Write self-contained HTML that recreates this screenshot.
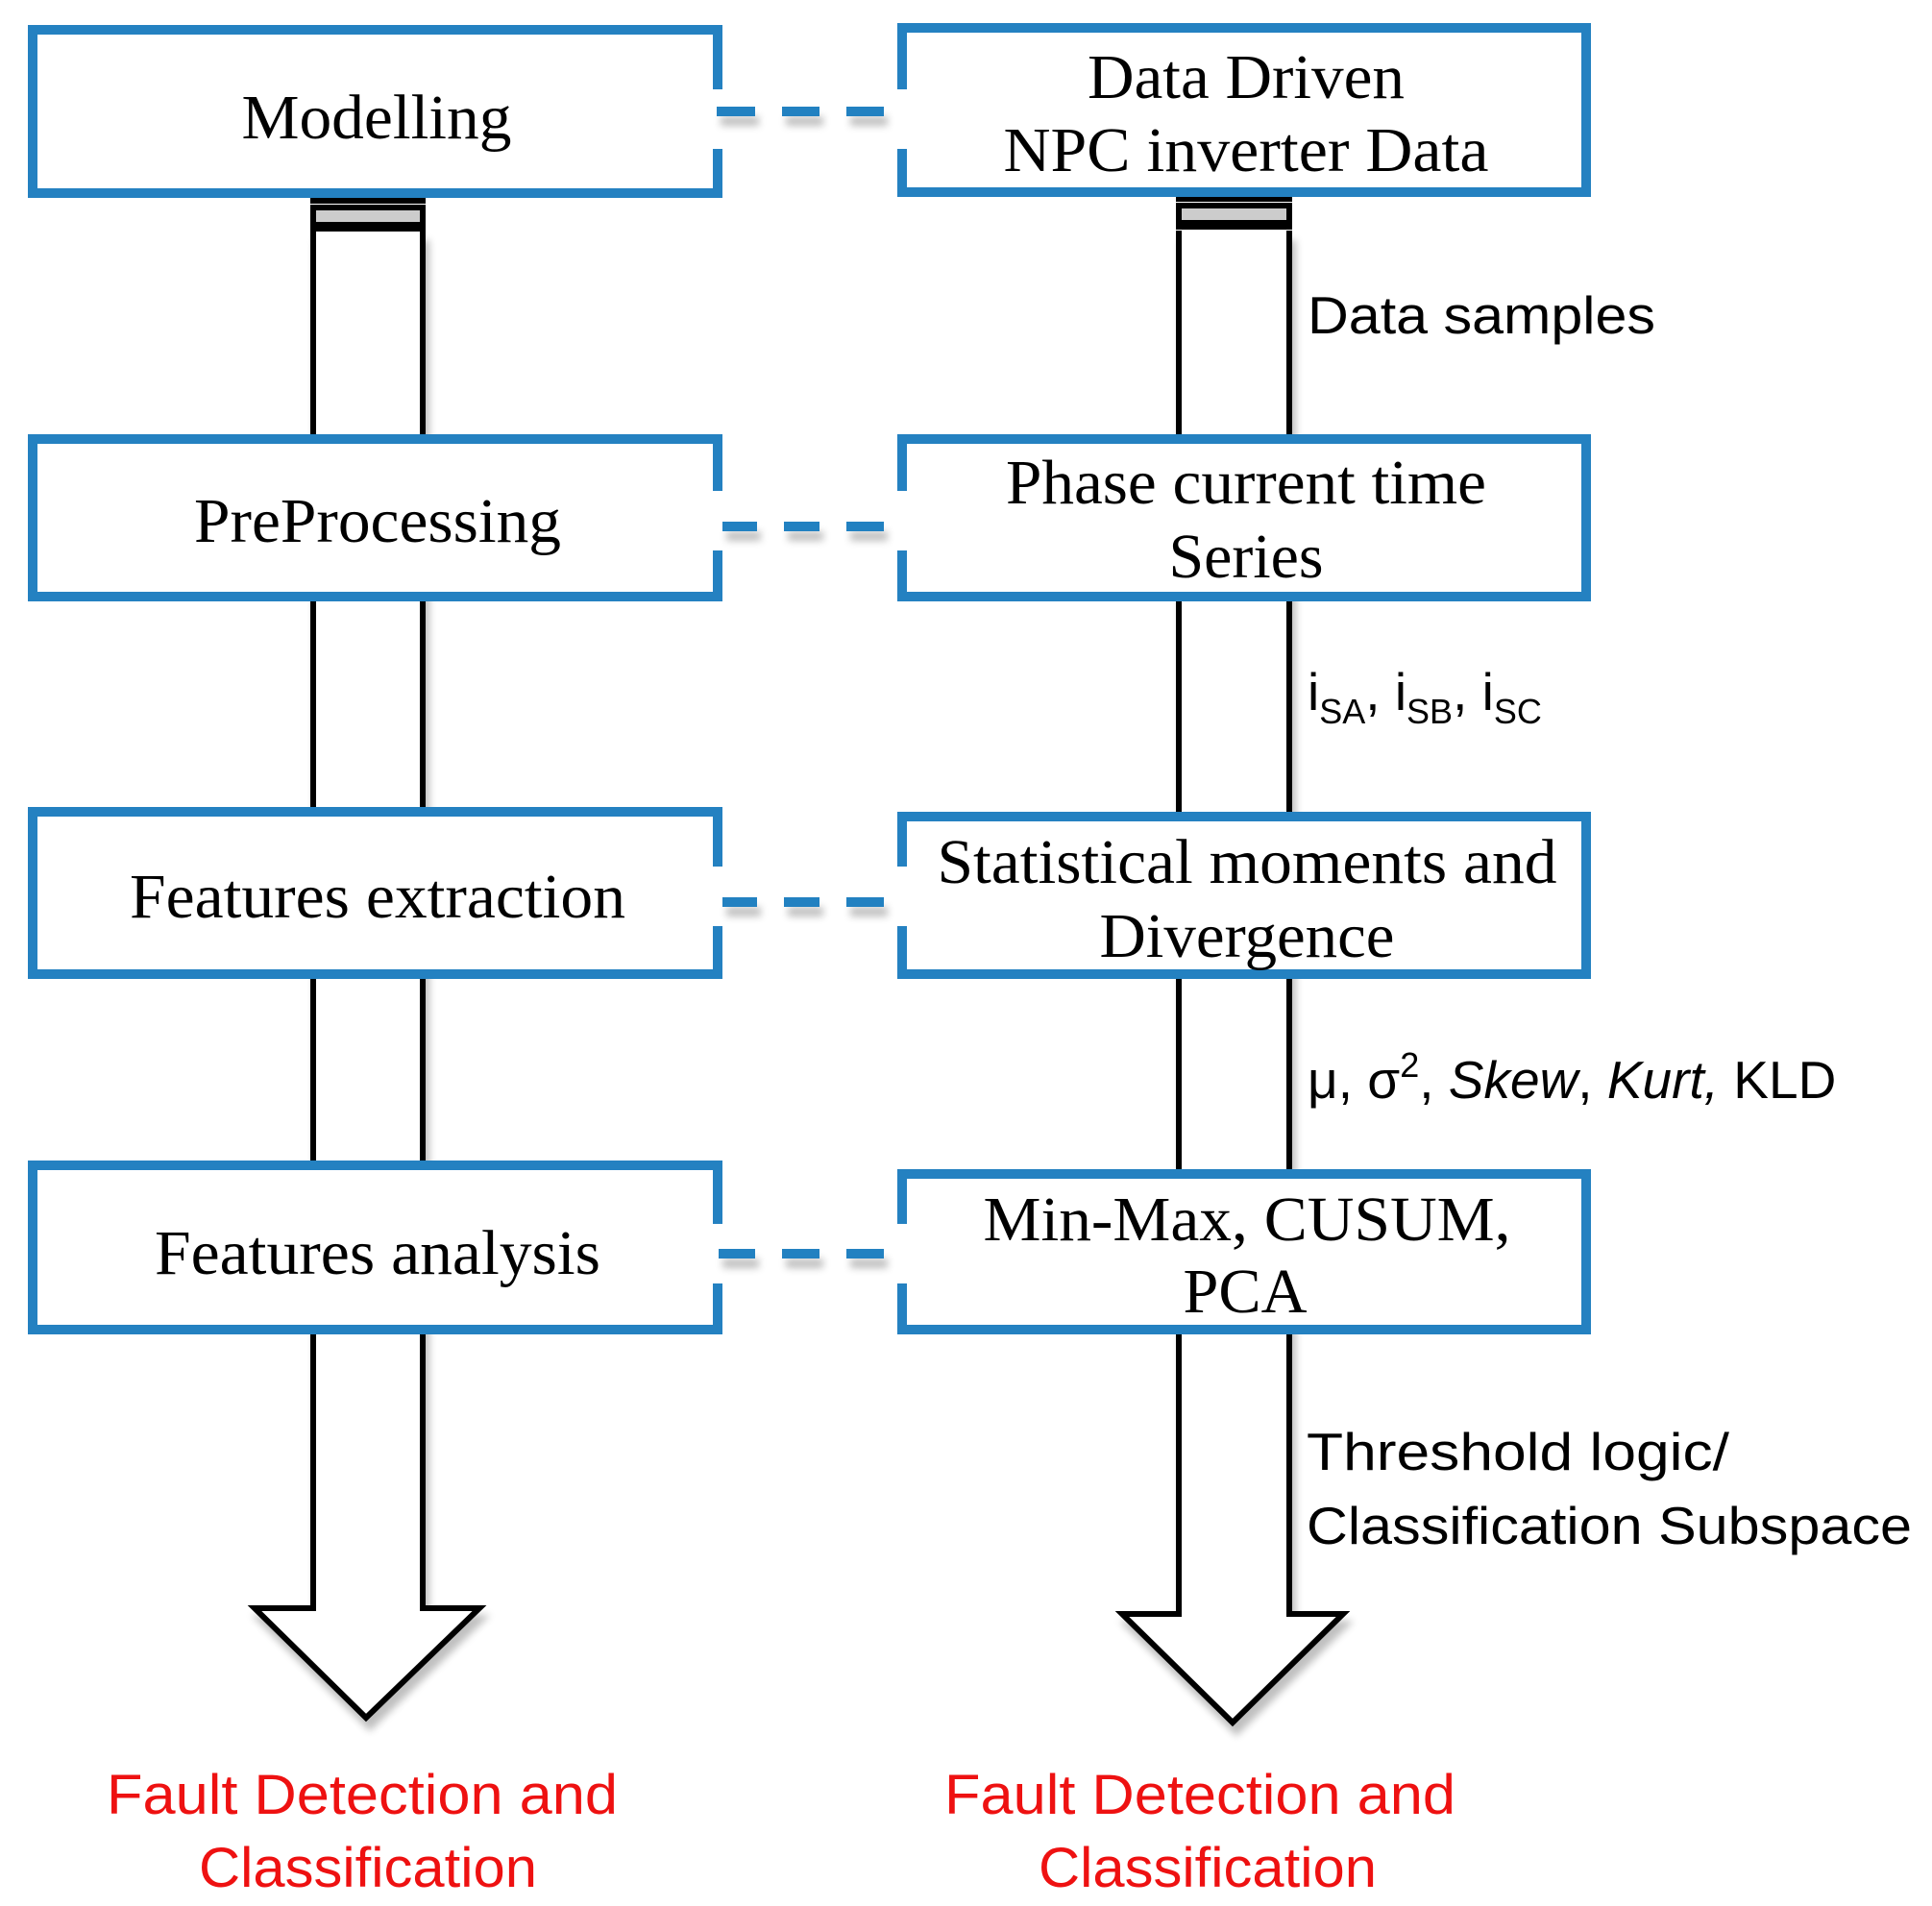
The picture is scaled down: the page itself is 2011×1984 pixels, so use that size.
<!DOCTYPE html>
<html><head><meta charset="utf-8"><style>
html,body{margin:0;padding:0;background:#fff;}
svg{display:block;}
.s{font-family:"Liberation Serif",serif;font-size:66px;fill:#000;}
.c{font-family:"Liberation Sans",sans-serif;font-size:55px;fill:#000;}
.r{font-family:"Liberation Sans",sans-serif;font-size:58px;fill:#ee1111;}
</style></head><body>
<svg width="2011" height="1984" viewBox="0 0 2011 1984" xmlns="http://www.w3.org/2000/svg">
<defs>
<filter id="sh" x="-20%" y="-20%" width="140%" height="140%"><feGaussianBlur in="SourceAlpha" stdDeviation="4"/><feOffset dx="4" dy="10"/><feComponentTransfer><feFuncA type="linear" slope="0.25"/></feComponentTransfer><feMerge><feMergeNode/><feMergeNode in="SourceGraphic"/></feMerge></filter>
</defs>

<g fill="#fff" stroke="#000" stroke-width="6" filter="url(#sh)">
<path d="M326,240 L326,1674 L265,1674 L381,1788 L499,1674 L440,1674 L440,240"/>
<path d="M1227,240 L1227,1680 L1168,1680 L1283,1793 L1398,1680 L1342,1680 L1342,240"/>
</g>
<g stroke="#000" stroke-width="6">
<rect x="326" y="216" width="114" height="18" fill="#ccc"/>
<line x1="323" y1="209" x2="443" y2="209"/>
<line x1="323" y1="238" x2="443" y2="238"/>
<rect x="1227" y="214" width="115" height="18" fill="#ccc"/>
<line x1="1224" y1="207" x2="1345" y2="207"/>
<line x1="1224" y1="236" x2="1345" y2="236"/>
</g>

<g fill="#fff" stroke="#2481c1" stroke-width="10">
<rect x="34" y="31" width="713" height="170"/>
<rect x="939" y="29" width="712" height="171"/>
<rect x="34" y="457" width="713" height="164"/>
<rect x="939" y="457" width="712" height="164"/>
<rect x="34" y="845" width="713" height="169"/>
<rect x="939" y="850" width="712" height="164"/>
<rect x="34" y="1213" width="713" height="171"/>
<rect x="939" y="1222" width="712" height="162"/>
</g>
<g fill="#fff">
<rect x="738" y="93" width="20" height="62"/><rect x="928" y="93" width="20" height="62"/>
<rect x="738" y="511" width="20" height="62"/><rect x="928" y="511" width="20" height="62"/>
<rect x="738" y="902" width="20" height="62"/><rect x="928" y="902" width="20" height="62"/>
<rect x="738" y="1274" width="20" height="62"/><rect x="928" y="1274" width="20" height="62"/>
</g>
<g fill="#2481c1" filter="url(#sh)">
<rect x="746" y="111" width="40" height="10"/><rect x="814" y="111" width="39" height="10"/><rect x="881" y="111" width="39" height="10"/>
<rect x="752" y="543" width="36" height="10"/><rect x="816" y="543" width="37" height="10"/><rect x="881" y="543" width="39" height="10"/>
<rect x="752" y="934" width="36" height="10"/><rect x="816" y="934" width="37" height="10"/><rect x="881" y="934" width="39" height="10"/>
<rect x="748" y="1300" width="38" height="10"/><rect x="814" y="1300" width="39" height="10"/><rect x="881" y="1300" width="39" height="10"/>
</g>

<g class="s" text-anchor="middle">
<text x="392" y="144" textLength="281" lengthAdjust="spacingAndGlyphs">Modelling</text>
<text x="1297" y="102" textLength="330" lengthAdjust="spacingAndGlyphs">Data Driven</text>
<text x="1297" y="178" textLength="505" lengthAdjust="spacingAndGlyphs">NPC inverter Data</text>
<text x="393" y="564" textLength="382" lengthAdjust="spacingAndGlyphs">PreProcessing</text>
<text x="1297" y="524" textLength="500" lengthAdjust="spacingAndGlyphs">Phase current time</text>
<text x="1297" y="601" textLength="161" lengthAdjust="spacingAndGlyphs">Series</text>
<text x="393" y="955" textLength="516" lengthAdjust="spacingAndGlyphs">Features extraction</text>
<text x="1298" y="919" textLength="645" lengthAdjust="spacingAndGlyphs">Statistical moments and</text>
<text x="1298" y="996" textLength="307" lengthAdjust="spacingAndGlyphs">Divergence</text>
<text x="393" y="1326" textLength="464" lengthAdjust="spacingAndGlyphs">Features analysis</text>
<text x="1298" y="1291" textLength="549" lengthAdjust="spacingAndGlyphs">Min-Max, CUSUM,</text>
<text x="1296" y="1366" textLength="129" lengthAdjust="spacingAndGlyphs">PCA</text>
</g>

<text class="c" x="1361" y="347" textLength="362" lengthAdjust="spacingAndGlyphs">Data samples</text>
<text class="c" x="1361" y="739">i<tspan font-size="36" dy="14">SA</tspan><tspan dy="-14">, i</tspan><tspan font-size="36" dy="14">SB</tspan><tspan dy="-14">, i</tspan><tspan font-size="36" dy="14">SC</tspan></text>
<text class="c" x="1361" y="1143">μ, σ<tspan font-size="36" dy="-22">2</tspan><tspan dy="22">, </tspan><tspan font-style="italic">Skew</tspan>, <tspan font-style="italic">Kurt,</tspan> KLD</text>
<text class="c" x="1360" y="1530" textLength="440" lengthAdjust="spacingAndGlyphs">Threshold logic/</text>
<text class="c" x="1360" y="1607" textLength="630" lengthAdjust="spacingAndGlyphs">Classification Subspace</text>

<text class="r" x="111" y="1888" textLength="532" lengthAdjust="spacingAndGlyphs">Fault Detection and</text>
<text class="r" x="207" y="1964" textLength="352" lengthAdjust="spacingAndGlyphs">Classification</text>
<text class="r" x="983" y="1888" textLength="532" lengthAdjust="spacingAndGlyphs">Fault Detection and</text>
<text class="r" x="1081" y="1964" textLength="352" lengthAdjust="spacingAndGlyphs">Classification</text>
</svg>
</body></html>
